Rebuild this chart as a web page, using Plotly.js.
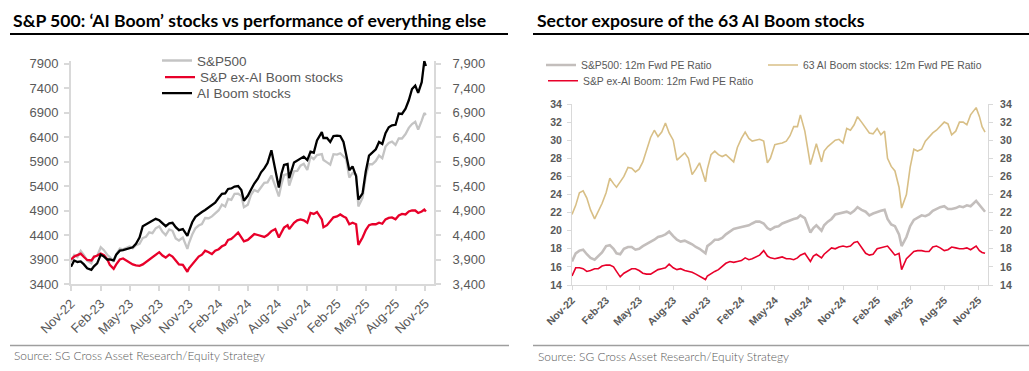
<!DOCTYPE html>
<html>
<head>
<meta charset="utf-8">
<script src="https://cdn.plot.ly/plotly-3.0.1.min.js"></script>
<style>html,body{margin:0;padding:0;background:#fff;}#chart{width:1029px;height:371px;}</style>
</head>
<body>
<div id="chart"></div>
<script>
// ---------- Left chart: index levels ----------
const leftDates = [
 '2022-11-01','2022-11-11','2022-11-21','2022-12-01','2022-12-11','2022-12-21',
 '2023-01-03','2023-01-11','2023-01-21','2023-02-01','2023-02-11','2023-02-21',
 '2023-03-01','2023-03-13','2023-03-21','2023-04-01','2023-04-11','2023-04-21',
 '2023-05-01','2023-05-11','2023-05-21','2023-06-01','2023-06-11','2023-06-21',
 '2023-07-01','2023-07-11','2023-07-21','2023-08-01','2023-08-11','2023-08-21',
 '2023-09-01','2023-09-11','2023-09-21','2023-10-01','2023-10-13','2023-10-27',
 '2023-11-01','2023-11-11','2023-11-21','2023-12-01','2023-12-11','2023-12-21',
 '2024-01-01','2024-01-11','2024-01-21','2024-02-01','2024-02-11','2024-02-21',
 '2024-03-01','2024-03-11','2024-03-21','2024-04-01','2024-04-11','2024-04-19',
 '2024-05-01','2024-05-11','2024-05-21','2024-06-01','2024-06-11','2024-06-21',
 '2024-07-01','2024-07-13','2024-07-25','2024-08-05','2024-08-13','2024-08-21',
 '2024-09-01','2024-09-06','2024-09-21','2024-10-01','2024-10-11','2024-10-21',
 '2024-11-01','2024-11-11','2024-11-21','2024-12-01','2024-12-16','2024-12-21',
 '2025-01-01','2025-01-11','2025-01-21','2025-02-01','2025-02-11','2025-02-21',
 '2025-03-01','2025-03-11','2025-03-21','2025-04-01','2025-04-08','2025-04-21',
 '2025-05-01','2025-05-11','2025-05-21','2025-06-01','2025-06-11','2025-06-21',
 '2025-07-01','2025-07-11','2025-07-21','2025-08-01','2025-08-11','2025-08-21',
 '2025-09-01','2025-09-11','2025-09-21','2025-10-01','2025-10-10','2025-10-21',
 '2025-10-29','2025-11-03'
];
const sp500 = [
 3856,3993,3950,4076,3990,3878, 3825,3970,3972,4150,4090,3997,
 3951,3855,4002,4124,4108,4133, 4167,4130,4192,4221,4338,4365,
 4455,4439,4536,4576,4464,4399, 4515,4487,4330,4288,4349,4117,
 4237,4411,4538,4594,4622,4746, 4742,4780,4850,4906,5021,4981,
 5137,5117,5241,5243,5199,4967, 5018,5222,5321,5283,5375,5464,
 5475,5615,5400,5186,5434,5620, 5648,5408,5702,5708,5815,5853,
 5728,6001,5948,6032,6050,5930, 5882,5836,6049,6040,6068,6013,
 5954,5572,5667,5633,4982,5158, 5604,5844,5844,5912,6022,5967,
 6205,6280,6305,6238,6373,6370, 6460,6587,6664,6711,6552,6735,
 6890,6850
];
const spExAI = [
 3900,3960,3990,4020,3950,3890, 3880,3950,3980,4020,3990,3910,
 3790,3710,3800,3900,3920,3880, 3850,3800,3780,3770,3800,3850,
 3900,3950,4010,4050,3980,3940, 4000,3960,3880,3800,3790,3650,
 3720,3800,3880,3960,4000,4080, 4050,4010,4080,4110,4170,4200,
 4300,4320,4380,4450,4350,4270, 4300,4370,4420,4400,4380,4360,
 4400,4480,4520,4350,4450,4550, 4600,4520,4650,4700,4720,4700,
 4650,4850,4830,4870,4720,4560, 4600,4680,4760,4780,4820,4780,
 4750,4620,4650,4620,4200,4350, 4500,4600,4620,4620,4650,4630,
 4720,4750,4760,4720,4800,4830, 4820,4880,4900,4900,4850,4880,
 4920,4880
];
const aiBoom = [
 3750,3880,3850,3860,3800,3720, 3690,3760,3820,4000,3960,3900,
 3900,3880,4000,4080,4090,4110, 4120,4150,4220,4350,4580,4620,
 4650,4700,4730,4700,4630,4580, 4640,4650,4560,4500,4520,4380,
 4480,4660,4770,4830,4870,4910, 4960,5000,5060,5160,5240,5250,
 5340,5350,5390,5400,5320,5100, 5200,5330,5450,5550,5680,5760,
 5870,6130,5750,5370,5650,5830, 5850,5560,5880,5920,5960,6000,
 5930,6100,6080,6330,6500,6380, 6380,6300,6420,6430,6420,6300,
 6050,5720,5800,5600,5120,5250, 5700,6020,6080,6150,6300,6260,
 6480,6600,6640,6650,6880,6870, 6980,7150,7380,7450,7300,7520,
 7950,7850
];

// ---------- Right chart: 12m forward PE ----------
const rightDates = [
 '2022-11-01','2022-11-11','2022-11-21','2022-12-01','2022-12-11','2022-12-21',
 '2023-01-01','2023-01-11','2023-01-21','2023-02-01','2023-02-11','2023-02-21',
 '2023-03-01','2023-03-11','2023-03-21','2023-04-01','2023-04-11','2023-04-21',
 '2023-05-01','2023-05-11','2023-05-21','2023-06-01','2023-06-11','2023-06-21',
 '2023-07-01','2023-07-11','2023-07-21','2023-08-01','2023-08-11','2023-08-21',
 '2023-09-01','2023-09-11','2023-09-21','2023-10-01','2023-10-11','2023-10-27',
 '2023-11-01','2023-11-11','2023-11-21','2023-12-01','2023-12-11','2023-12-21',
 '2024-01-01','2024-01-11','2024-01-21','2024-02-01','2024-02-11','2024-02-21',
 '2024-03-01','2024-03-11','2024-03-21','2024-04-01','2024-04-11','2024-04-19',
 '2024-05-01','2024-05-11','2024-05-21','2024-06-01','2024-06-11','2024-06-21',
 '2024-07-01','2024-07-09','2024-07-21','2024-08-05','2024-08-13','2024-08-21',
 '2024-09-04','2024-09-11','2024-09-21','2024-10-01','2024-10-11','2024-10-21',
 '2024-11-01','2024-11-11','2024-11-21','2024-12-01','2024-12-10','2024-12-21',
 '2025-01-01','2025-01-11','2025-01-21','2025-02-01','2025-02-11','2025-02-21',
 '2025-03-01','2025-03-11','2025-03-21','2025-04-01','2025-04-08','2025-04-21',
 '2025-05-01','2025-05-11','2025-05-21','2025-06-01','2025-06-11','2025-06-21',
 '2025-07-01','2025-07-11','2025-07-21','2025-08-01','2025-08-11','2025-08-21',
 '2025-09-01','2025-09-11','2025-09-21','2025-10-01','2025-10-11','2025-10-26',
 '2025-11-04','2025-11-11','2025-11-19'
];
const peSP500 = [
 16.6,17.5,17.8,17.9,17.4,17.0, 16.8,17.2,17.6,18.3,18.4,18.0,
 17.5,17.4,18.0,18.2,18.2,17.9, 18.0,18.3,18.5,18.8,19.0,19.3,
 19.4,19.6,19.9,19.4,19.0,18.8, 18.9,18.7,18.5,18.2,18.0,17.5,
 18.3,18.6,19.0,19.0,19.2,19.6, 19.9,20.2,20.3,20.4,20.5,20.6,
 20.8,21.0,21.0,20.8,20.3,20.1, 20.4,20.5,20.8,21.0,21.2,21.3,
 21.4,21.7,21.4,19.8,20.3,20.6, 20.0,20.6,21.0,21.3,21.8,21.9,
 22.0,22.1,21.9,22.2,22.6,22.3, 22.1,21.7,21.9,22.1,22.2,22.3,
 21.3,20.7,20.5,19.6,18.3,19.3, 20.5,21.2,21.4,21.7,21.6,21.8,
 22.2,22.4,22.6,22.7,22.4,22.4, 22.5,22.7,22.6,22.8,22.7,23.3,
 22.8,22.5,22.1
];
const peAIBoom = [
 21.8,22.8,24.2,24.4,23.6,22.3, 21.3,22.2,23.0,24.2,25.8,25.2,
 24.8,25.4,26.0,27.0,26.9,26.5, 26.8,27.6,28.8,30.3,31.1,30.4,
 30.9,31.9,30.8,30.0,27.8,28.2, 28.6,28.0,26.2,26.8,27.5,25.4,
 26.8,28.4,28.8,28.4,28.2,28.4, 28.0,27.6,29.2,30.2,30.9,30.2,
 29.9,30.0,30.1,29.9,27.5,28.0, 29.5,29.6,29.7,29.9,30.5,31.5,
 31.5,32.8,31.0,27.3,28.6,29.6, 27.6,28.8,29.3,29.7,30.0,30.1,
 29.7,31.3,31.1,31.7,32.6,32.0, 31.3,30.8,30.7,31.3,30.6,31.0,
 28.0,27.1,26.6,24.8,22.5,24.0, 27.0,29.0,28.8,29.0,29.9,30.4,
 30.8,31.1,31.5,32.0,31.8,30.6, 31.0,32.0,32.0,31.7,32.8,33.6,
 32.6,31.5,30.9
];
const peExAI = [
 15.0,15.9,15.9,15.8,15.5,15.6, 15.8,15.8,16.1,16.2,16.2,16.0,
 15.5,14.9,15.3,15.6,15.8,15.8, 15.6,15.3,15.2,15.2,15.5,15.7,
 15.8,15.9,16.3,15.9,15.7,15.8, 15.6,15.5,15.4,15.2,15.0,14.6,
 15.0,15.3,15.5,15.7,16.1,16.4, 16.6,16.5,16.6,16.7,17.0,16.8,
 16.9,17.1,17.3,17.8,17.2,17.0, 16.9,17.0,17.1,16.9,16.9,16.8,
 17.0,17.3,17.5,16.6,17.2,17.4, 17.0,17.4,17.8,18.1,18.0,18.2,
 18.3,18.2,18.3,18.7,18.8,18.1, 17.5,17.3,17.4,18.0,18.1,18.2,
 18.3,17.8,17.3,17.5,15.7,16.9, 17.3,17.7,17.8,17.8,17.7,17.7,
 18.2,18.3,18.1,17.8,17.9,18.2, 18.1,18.0,18.0,18.1,17.9,18.3,
 17.8,17.6,17.5
];

const names = {
  sp: 'S&P500', ex: 'S&P ex-AI Boom stocks', ai: 'AI Boom stocks',
  peSp: 'S&P500: 12m Fwd PE Ratio', peAi: '63 AI Boom stocks: 12m Fwd PE Ratio', peEx: 'S&P ex-AI Boom: 12m Fwd PE Ratio'
};

const W = 1029, H = 371;
const px = v => v / W;
const py = v => 1 - v / H;

const ARIAL = 'Liberation Sans, Arial, sans-serif';
const tickFontL = {family: ARIAL, size: 13, color: '#595959'};
const tickFontR = {family: ARIAL, size: 10.5, color: '#595959', weight: 700};

const traces = [
  {x: leftDates, y: sp500, name: names.sp, type: 'scatter', mode: 'lines', xaxis: 'x', yaxis: 'y',
   line: {color: '#c4c4c4', width: 2.3}, legend: 'legend'},
  {x: leftDates, y: spExAI, name: names.ex, type: 'scatter', mode: 'lines', xaxis: 'x', yaxis: 'y2',
   line: {color: '#e8002a', width: 2.3}, legend: 'legend2'},
  {x: leftDates, y: aiBoom, name: names.ai, type: 'scatter', mode: 'lines', xaxis: 'x', yaxis: 'y2',
   line: {color: '#000000', width: 2.3}, legend: 'legend3'},
  {x: rightDates, y: peSP500, name: names.peSp, type: 'scatter', mode: 'lines', xaxis: 'x2', yaxis: 'y3',
   line: {color: '#c3bebc', width: 2.6}, legend: 'legend4'},
  {x: rightDates, y: peAIBoom, name: names.peAi, type: 'scatter', mode: 'lines', xaxis: 'x2', yaxis: 'y4',
   line: {color: '#d8bf86', width: 1.6}, legend: 'legend5'},
  {x: rightDates, y: peExAI, name: names.peEx, type: 'scatter', mode: 'lines', xaxis: 'x2', yaxis: 'y4',
   line: {color: '#e8002a', width: 1.6}, legend: 'legend6'}
];

const xBase = {type: 'date', tick0: '2022-11-01', dtick: 'M3', tickformat: '%b-%y', tickangle: -45,
  ticks: 'outside', showgrid: false, zeroline: false, showline: true, fixedrange: true};

const legBase = (x, y, font) => ({x: px(x), y: py(y), xanchor: 'left', yanchor: 'middle',
  bgcolor: 'rgba(0,0,0,0)', borderwidth: 0, font: font, orientation: 'v'});
const legFontL = {family: ARIAL, size: 13.5, color: '#595959'};
const legFontR = {family: ARIAL, size: 10.4, color: '#595959'};

const layout = {
  width: W, height: H, margin: {l: 0, r: 0, t: 0, b: 0},
  paper_bgcolor: '#ffffff', plot_bgcolor: 'rgba(0,0,0,0)', showlegend: true, hovermode: false,
  xaxis: Object.assign({}, xBase, {domain: [px(71), px(434)], anchor: 'y',
    range: ['2022-11-01', '2025-11-28'], ticklen: 5, tickwidth: 2, tickcolor: '#d9d9d9',
    linecolor: '#d9d9d9', linewidth: 2, tickfont: tickFontL}),
  yaxis: {domain: [1 - 284 / H, 1 - 60.6 / H], anchor: 'x', range: [3400, 7960], tick0: 3400, dtick: 500,
    ticks: 'outside', ticklen: 5, tickwidth: 2, tickcolor: '#d9d9d9', showline: true, linecolor: '#d9d9d9',
    linewidth: 2, showgrid: false, zeroline: false, tickfont: tickFontL, tickformat: 'd', fixedrange: true,
    ticklabelstandoff: 3},
  yaxis2: {overlaying: 'y', side: 'right', anchor: 'x', range: [3400, 7960], tick0: 3400, dtick: 500,
    ticks: 'outside', ticklen: 5, tickwidth: 2, tickcolor: '#d9d9d9', showline: true, linecolor: '#d9d9d9',
    linewidth: 2, showgrid: false, zeroline: false, tickfont: tickFontL, tickformat: ',', fixedrange: true,
    ticklabelstandoff: 9},
  xaxis2: Object.assign({}, xBase, {domain: [px(572), px(988)], anchor: 'y3',
    range: ['2022-11-01', '2025-11-27'], ticklen: 4, tickwidth: 1, tickcolor: '#d9d9d9',
    linecolor: '#d9d9d9', linewidth: 1, tickfont: tickFontR}),
  yaxis3: {domain: [1 - 285 / H, 1 - 104 / H], anchor: 'x2', range: [14, 34], tick0: 14, dtick: 2,
    ticks: 'outside', ticklen: 4, tickwidth: 1, tickcolor: '#d9d9d9', showline: true, linecolor: '#d9d9d9',
    linewidth: 1, showgrid: false, zeroline: false, tickfont: tickFontR, fixedrange: true, ticklabelstandoff: 3},
  yaxis4: {overlaying: 'y3', side: 'right', anchor: 'x2', range: [14, 34], tick0: 14, dtick: 2,
    ticks: 'outside', ticklen: 4, tickwidth: 1, tickcolor: '#d9d9d9', showline: true, linecolor: '#d9d9d9',
    linewidth: 1, showgrid: false, zeroline: false, tickfont: tickFontR, fixedrange: true, ticklabelstandoff: 5},
  legend: legBase(157, 60.7, legFontL),
  legend2: legBase(160, 77.3, legFontL),
  legend3: legBase(157, 93.3, legFontL),
  legend4: legBase(541, 65, legFontR),
  legend5: legBase(763, 65, legFontR),
  legend6: legBase(543, 80.7, legFontR),
  annotations: [
    {text: 'S&P 500: ‘AI Boom’ stocks vs performance of everything else', xref: 'paper', yref: 'paper',
     x: px(11), y: py(21), xanchor: 'left', yanchor: 'middle', showarrow: false,
     font: {family: 'Lato, sans-serif', size: 17.6, weight: 700, color: '#000000'}},
    {text: 'Sector exposure of the 63 AI Boom stocks', xref: 'paper', yref: 'paper',
     x: px(535), y: py(21), xanchor: 'left', yanchor: 'middle', showarrow: false,
     font: {family: 'Lato, sans-serif', size: 17.6, weight: 700, color: '#000000'}},
    {text: 'Source: SG Cross Asset Research/Equity Strategy', xref: 'paper', yref: 'paper',
     x: px(12), y: py(355), xanchor: 'left', yanchor: 'middle', showarrow: false,
     font: {family: 'Lato, sans-serif', size: 11.9, weight: 300, color: '#595959'}},
    {text: 'Source: SG Cross Asset Research/Equity Strategy', xref: 'paper', yref: 'paper',
     x: px(536), y: py(356), xanchor: 'left', yanchor: 'middle', showarrow: false,
     font: {family: 'Lato, sans-serif', size: 11.9, weight: 300, color: '#595959'}}
  ],
  shapes: [
    {type: 'line', xref: 'paper', yref: 'paper', x0: px(10), x1: px(508), y0: py(34), y1: py(34), line: {color: '#000', width: 2}},
    {type: 'line', xref: 'paper', yref: 'paper', x0: px(533), x1: px(1029), y0: py(34), y1: py(34), line: {color: '#000', width: 2}},
    {type: 'line', xref: 'paper', yref: 'paper', x0: px(10), x1: px(509), y0: py(345.5), y1: py(345.5), line: {color: '#9e9e9e', width: 1.3}},
    {type: 'line', xref: 'paper', yref: 'paper', x0: px(533), x1: px(1029), y0: py(345.5), y1: py(345.5), line: {color: '#9e9e9e', width: 1.3}}
  ]
};

Plotly.newPlot('chart', traces, layout, {displayModeBar: false, staticPlot: true});
</script>
</body>
</html>
